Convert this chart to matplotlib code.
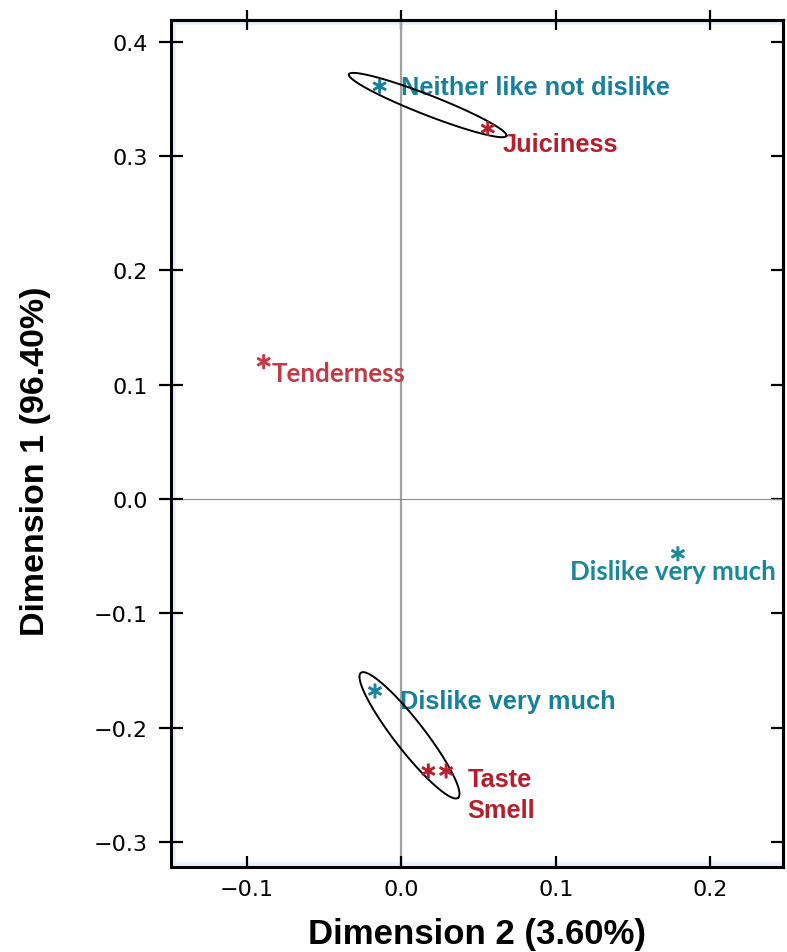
import numpy as np
import matplotlib
matplotlib.use("Agg")
import matplotlib.pyplot as plt

# Correspondence-analysis coordinates: (Dimension 2, Dimension 1)
attr_labels = ["Juiciness", "Tenderness", "Taste", "Smell"]
attr_dim2 = [0.056, -0.089, 0.0175, 0.029]
attr_dim1 = [0.324, 0.120, -0.238, -0.238]

pref_labels = ["Neither like not dislike", "Dislike very much", "Dislike very much"]
pref_dim2 = [-0.014, -0.017, 0.179]
pref_dim1 = [0.361, -0.168, -0.048]

x_ticks = [-0.1, 0.0, 0.1, 0.2]
y_ticks = [-0.3, -0.2, -0.1, 0.0, 0.1, 0.2, 0.3, 0.4]
x_tick_labels = ["\u22120.1", "0.0", "0.1", "0.2"]
y_tick_labels = ["\u22120.3", "\u22120.2", "\u22120.1", "0.0", "0.1", "0.2", "0.3", "0.4"]

TEAL = "#17809c"
TEAL2 = "#1a8898"
RED = "#b41f2b"
RED2 = "#c43a44"

fig = plt.figure(figsize=(7.87, 9.53), dpi=100)
ax = fig.add_axes([0.2173, 0.0892, 0.7776, 0.8888])
ax.set_xlim(-0.149, 0.247)
ax.set_ylim(-0.322, 0.419)

# soft pale band along the frame
ax.axvline(-0.149, color="#e2f4fa", lw=7, zorder=0)
ax.axhline(0.419, color="#e2f4fa", lw=7, zorder=0)
ax.axhline(-0.322, color="#e2f4fa", lw=7, zorder=0)

# origin reference lines
ax.axvline(0, color="#a0a0a0", lw=1.6, zorder=1)
ax.axhline(0, color="#8c8c8c", lw=0.8, zorder=1)

for sp in ax.spines.values():
    sp.set_linewidth(2.2)
    sp.set_color("black")

tick_font = dict(family="DejaVu Sans", size=16)
ax.set_xticks(x_ticks)
ax.set_xticklabels(x_tick_labels, **tick_font)
ax.set_yticks(y_ticks)
ax.set_yticklabels(y_tick_labels, **tick_font)
ax.tick_params(axis="x", direction="in", length=8, width=1.6, pad=9)
ax.tick_params(axis="y", direction="inout", length=17, width=1.6, pad=8)

top = ax.secondary_xaxis("top")
top.set_xticks(x_ticks)
top.tick_params(direction="inout", length=14, width=1.6, labeltop=False)
top.spines["top"].set_linewidth(2.2)
right = ax.secondary_yaxis("right")
right.set_yticks(y_ticks)
right.tick_params(direction="in", length=9, width=1.6, labelright=False)
right.spines["right"].set_linewidth(2.2)

ax.set_xlabel("Dimension 2 (3.60%)", family="Liberation Sans", fontsize=25,
              fontweight="bold")
ax.xaxis.set_label_coords(0.5, -0.059)
ax.set_ylabel("Dimension 1 (96.40%)", family="Liberation Sans", fontsize=24.5,
              fontweight="bold")
ax.yaxis.set_label_coords(-0.196, 0.48)

# points
ax.scatter(pref_dim2, pref_dim1, marker="$\\ast$", s=100, color=[TEAL, TEAL, TEAL2],
           linewidths=0.8, zorder=4)
ax.scatter(attr_dim2, attr_dim1, marker="$\\ast$", s=100, color=[RED, RED2, RED, RED],
           linewidths=0.8, zorder=4)

arial = dict(family="Liberation Sans", fontweight="bold", fontsize=18.3)
cal = dict(family="Lato", fontweight="bold", fontsize=18.6)

def label(x, y, text, dx, dy, color, fnt, ha="left"):
    ax.annotate(text, (x, y), xytext=(dx * 0.72, dy * 0.72), textcoords="offset points",
                ha=ha, va="baseline", color=color, **fnt)

label(pref_dim2[0], pref_dim1[0], pref_labels[0], 21, -8, TEAL, arial)
label(pref_dim2[1], pref_dim1[1], pref_labels[1], 25, -17, TEAL, arial)
label(pref_dim2[2], pref_dim1[2], pref_labels[2], -5, -25, TEAL2, cal, ha="center")
label(attr_dim2[0], attr_dim1[0], attr_labels[0], 15, -22, RED, arial)
label(attr_dim2[1], attr_dim1[1], attr_labels[1], 8, -19, RED2, cal)
label(attr_dim2[2], attr_dim1[2], attr_labels[2], 39, -15, RED, arial)
label(attr_dim2[3], attr_dim1[3], attr_labels[3], 21, -46, RED, arial)

# grouping ellipses, built in screen space around the associated points
def group_ellipse(p_a, p_b, ext_a, ext_b, half_w):
    T = ax.transData
    a = T.transform(p_a)
    b = T.transform(p_b)
    u = (b - a) / np.linalg.norm(b - a)
    tip_a = a - ext_a * u
    tip_b = b + ext_b * u
    c = (tip_a + tip_b) / 2
    half_l = np.linalg.norm(tip_b - tip_a) / 2
    v = np.array([-u[1], u[0]])
    t = np.linspace(0, 2 * np.pi, 300)
    pts = c + np.outer(np.cos(t) * half_l, u) + np.outer(np.sin(t) * half_w, v)
    d = T.inverted().transform(pts)
    ax.plot(d[:, 0], d[:, 1], color="black", lw=1.4, zorder=3)

group_ellipse((pref_dim2[0], pref_dim1[0]), (attr_dim2[0], attr_dim1[0]), 33, 20, 10)
pair = (np.mean(attr_dim2[2:]), np.mean(attr_dim1[2:]))
group_ellipse((pref_dim2[1], pref_dim1[1]), pair, 23, 34, 15)

fig.savefig("out.png", dpi=100)
